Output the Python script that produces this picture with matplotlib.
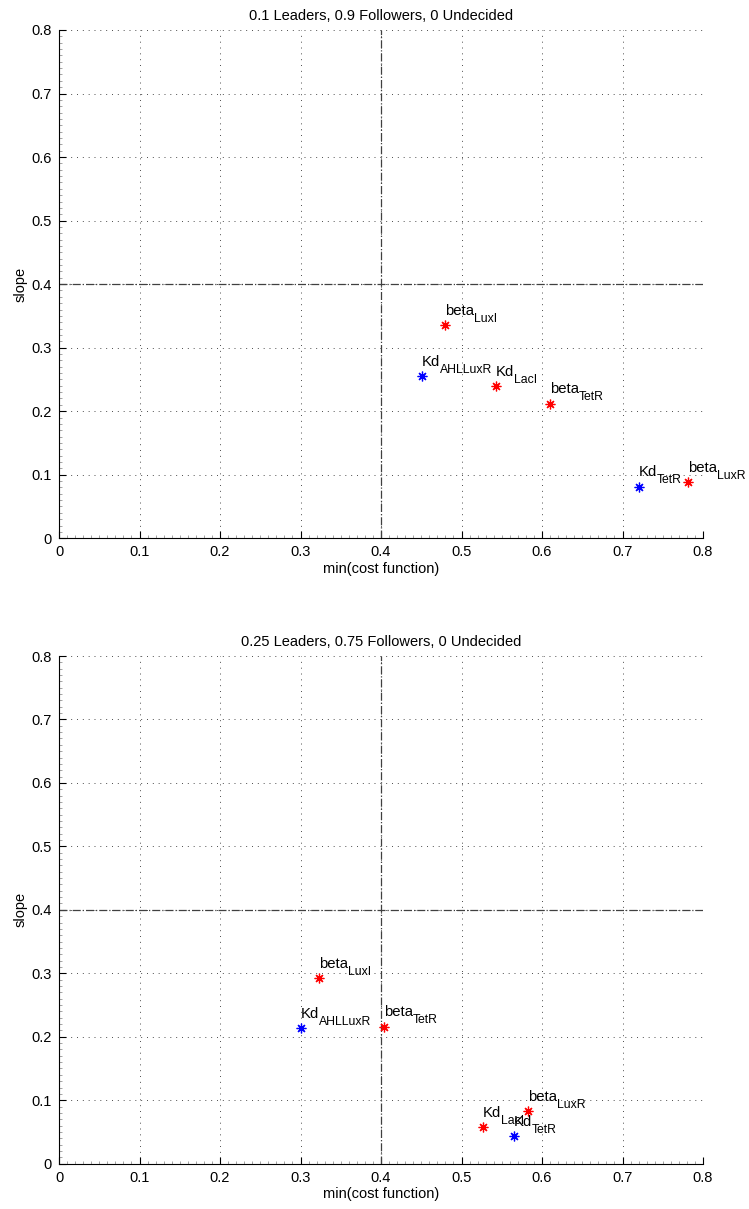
import numpy as np
import matplotlib
matplotlib.use('Agg')
import matplotlib.pyplot as plt
from matplotlib.ticker import MultipleLocator, FuncFormatter

plt.rcParams['font.family'] = ['Liberation Sans', 'DejaVu Sans']

# parameter names, split into base name and subscript
bases = ['beta', 'Kd', 'Kd', 'beta', 'Kd', 'beta']
subs = ['LuxI', 'AHLLuxR', 'LacI', 'TetR', 'TetR', 'LuxR']
colors = ['red', 'blue', 'red', 'red', 'blue', 'red']

# 0.1 leaders / 0.9 followers
cost_a = [0.479, 0.451, 0.543, 0.610, 0.720, 0.781]
slope_a = [0.335, 0.255, 0.239, 0.212, 0.081, 0.088]

# 0.25 leaders / 0.75 followers
cost_b = [0.323, 0.300, 0.527, 0.404, 0.565, 0.583]
slope_b = [0.292, 0.213, 0.057, 0.216, 0.043, 0.083]

titles = ['0.1 Leaders, 0.9 Followers, 0 Undecided',
          '0.25 Leaders, 0.75 Followers, 0 Undecided']
threshold = 0.4

fig = plt.figure(figsize=(7.49, 12.09), dpi=100)
ax1 = fig.add_axes([0.0788, 0.5548, 0.8598, 0.4204])
ax2 = fig.add_axes([0.0788, 0.0375, 0.8598, 0.4199])

asterisk = (8, 2, 0)
fmt = FuncFormatter(lambda v, p: f'{v:g}')
renderer = fig.canvas.get_renderer()

for ax, xs, ys, title in [(ax1, cost_a, slope_a, titles[0]),
                          (ax2, cost_b, slope_b, titles[1])]:
    ax.set_xlim(0, 0.8)
    ax.set_ylim(0, 0.8)
    ax.xaxis.set_major_locator(MultipleLocator(0.1))
    ax.yaxis.set_major_locator(MultipleLocator(0.1))
    ax.xaxis.set_minor_locator(MultipleLocator(0.01))
    ax.yaxis.set_minor_locator(MultipleLocator(0.01))
    ax.xaxis.set_major_formatter(fmt)
    ax.yaxis.set_major_formatter(fmt)
    ax.tick_params(which='major', direction='in', length=5, width=0.8,
                   labelsize=10.5, pad=5)
    ax.tick_params(which='minor', direction='in', length=2, width=0.5, color='0.5')
    ax.spines['top'].set_visible(False)
    ax.spines['right'].set_visible(False)
    ax.spines['left'].set_linewidth(0.8)
    ax.spines['bottom'].set_linewidth(0.8)
    ax.grid(True, which='major', linestyle=(0, (1, 5)), color='0.3', linewidth=0.7)
    ax.set_axisbelow(True)

    ax.axvline(threshold, color='0.25', linestyle='-.', linewidth=0.9)
    ax.axhline(threshold, color='0.25', linestyle='-.', linewidth=0.9)

    for x, y, b, s, c in zip(xs, ys, bases, subs, colors):
        ax.plot(x, y, linestyle='none', marker=asterisk, markersize=7,
                markeredgewidth=0.9, color=c, clip_on=False)
        # base name, then subscript placed right after it
        main = ax.annotate(b, xy=(x, y), xytext=(0, 7.5), textcoords='offset points',
                           fontsize=10.7, va='baseline', ha='left')
        w = main.get_window_extent(renderer).width * 72 / fig.dpi
        ax.annotate(s, xy=(x, y), xytext=(w, 2.5), textcoords='offset points',
                    fontsize=8.8, va='baseline', ha='left')

    ax.set_title(title, fontsize=10.5, pad=7)
    ax.set_xlabel('min(cost function)', fontsize=10.5, labelpad=2)
    ax.set_ylabel('slope', fontsize=10.5, labelpad=3)

fig.savefig('out.png', dpi=100)
